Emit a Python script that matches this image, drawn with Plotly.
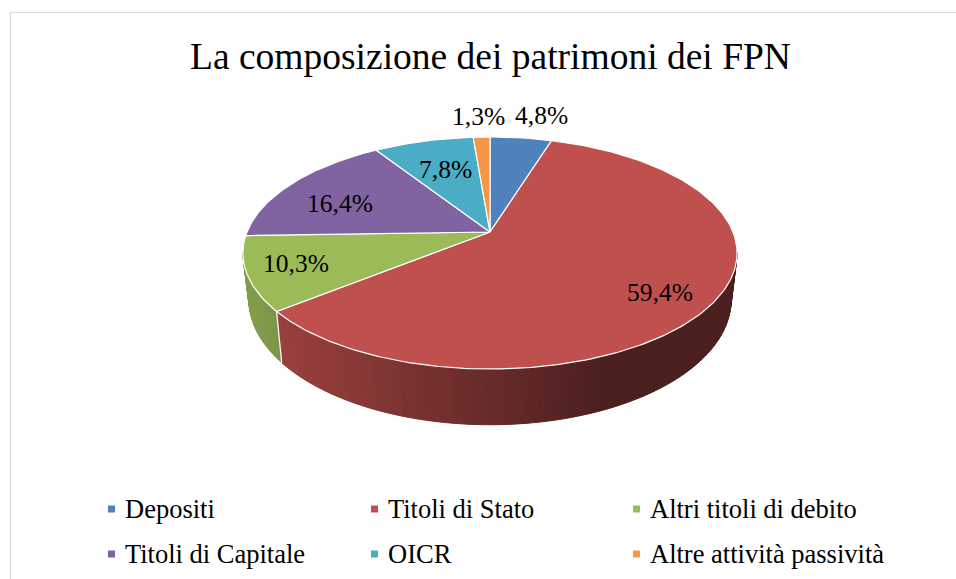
import math
import plotly.graph_objects as go

TITLE = "La composizione dei patrimoni dei FPN"
categories = ["Depositi", "Titoli di Stato", "Altri titoli di debito",
              "Titoli di Capitale", "OICR", "Altre attività passività"]
values = [4.8, 59.4, 10.3, 16.4, 7.8, 1.3]
colors = ["#4f81bd", "#c0504d", "#9bbb59", "#8064a2", "#4bacc6", "#f79646"]

# layout of the drawing (pixels of the 956x579 canvas)
W, H = 956, 579
CX, CY = 490, 232
RX, RY, PERSP = 243, 112.2, 0.181
SIDE_SCALE_X, SIDE_CY, SIDE_RY = 0.976, 277, 121
SIDE_FROM, SIDE_TO = 100, 260
LABEL_XY = [(541, 115), (660, 292), (296, 263), (340, 203), (445, 169), (478, 116)]
LEGEND_XY = [(111.5, 509), (374.5, 509), (636.5, 509), (111.5, 554), (374.5, 554), (636.5, 554)]
LEGEND_GAP = 11
FONT = "Liberation Serif, Times New Roman, serif"


def top_pt(deg):
    a = math.radians(deg)
    X, Y = math.sin(a), math.cos(a)
    d = 1 + PERSP * Y
    return CX + RX * X / d, CY - RY * Y / d


def low_pt(deg):
    a = math.radians(deg)
    X, Y = math.sin(a), math.cos(a)
    d = 1 + PERSP * Y
    return CX + SIDE_SCALE_X * RX * X / d, SIDE_CY - SIDE_RY * Y / d


def shade(hex_color, x):
    f = max(0.385, min(0.84, 0.84 - (x - 245) * 0.00125))
    r, g, b = (int(hex_color[i:i + 2], 16) for i in (1, 3, 5))
    return f"rgb({r * f:.0f},{g * f:.0f},{b * f:.0f})"


total = sum(values)
edges = [0]
for v in values:
    edges.append(edges[-1] + v / total * 360)

fig = go.Figure()

# side wall, drawn as thin strips so that the shade runs from left to right
for i, c in enumerate(colors):
    start, end = max(edges[i], SIDE_FROM), min(edges[i + 1], SIDE_TO)
    if end <= start:
        continue
    n = max(1, int((end - start) / 1.5))
    for k in range(n):
        a0 = start + (end - start) * k / n
        a1 = start + (end - start) * (k + 1) / n
        p = [top_pt(a0), top_pt(a1), low_pt(a1), low_pt(a0), top_pt(a0)]
        col = shade(c, (p[0][0] + p[1][0]) / 2)
        fig.add_trace(go.Scatter(x=[q[0] for q in p], y=[q[1] for q in p], mode="lines",
                                 fill="toself", fillcolor=col, line=dict(color=col, width=1),
                                 hoverinfo="skip", showlegend=False))

# white seams on the side wall
for e in edges:
    if SIDE_FROM < e < SIDE_TO:
        p, q = top_pt(e), low_pt(e)
        fig.add_trace(go.Scatter(x=[p[0], q[0]], y=[p[1], q[1]], mode="lines",
                                 line=dict(color="white", width=1.2),
                                 hoverinfo="skip", showlegend=False))

# top face slices
for i, (name, c) in enumerate(zip(categories, colors)):
    n = max(4, int((edges[i + 1] - edges[i]) / 1.0))
    pts = [(CX, CY)] + [top_pt(edges[i] + (edges[i + 1] - edges[i]) * k / n) for k in range(n + 1)] + [(CX, CY)]
    fig.add_trace(go.Scatter(x=[q[0] for q in pts], y=[q[1] for q in pts], mode="lines",
                             fill="toself", fillcolor=c, line=dict(color="white", width=1.2),
                             name=name, hoverinfo="name", showlegend=False))

# legend swatches and their labels
annotations = []
for (name, c, (lx, ly)) in zip(categories, colors, LEGEND_XY):
    fig.add_trace(go.Scatter(x=[lx], y=[ly], mode="markers", name=name,
                             marker=dict(symbol="square", size=7, color=c),
                             hoverinfo="name", showlegend=False))
    annotations.append(dict(x=lx + LEGEND_GAP, y=ly, text=name, showarrow=False, xanchor="left",
                            yanchor="middle", xref="x", yref="y",
                            font=dict(family=FONT, size=26.5, color="black")))

# percentage labels
for v, (lx, ly) in zip(values, LABEL_XY):
    annotations.append(dict(x=lx, y=ly, text=f"{v:.1f}%".replace(".", ","), showarrow=False,
                            xanchor="center", yanchor="middle", xref="x", yref="y",
                            font=dict(family=FONT, size=25.5, color="black")))

annotations.append(dict(x=490, y=56, text=TITLE, showarrow=False, xanchor="center", yanchor="middle",
                        xref="x", yref="y", font=dict(family=FONT, size=37.5, color="black")))

BORDER = "#d9d9d9"
shapes = [dict(type="line", xref="x", yref="y", x0=10, x1=W, y0=12.5, y1=12.5, line=dict(color=BORDER, width=1)),
          dict(type="line", xref="x", yref="y", x0=10.5, x1=10.5, y0=12, y1=H, line=dict(color=BORDER, width=1))]

fig.update_layout(
    width=W, height=H, margin=dict(l=0, r=0, t=0, b=0),
    paper_bgcolor="white", plot_bgcolor="white", showlegend=False,
    xaxis=dict(range=[0, W], visible=False, fixedrange=True),
    yaxis=dict(range=[H, 0], visible=False, fixedrange=True),
    annotations=annotations, shapes=shapes,
)

fig.write_html("out.html", config={"displayModeBar": False},
               post_script="document.body.style.margin='0';document.body.style.overflow='hidden';")
